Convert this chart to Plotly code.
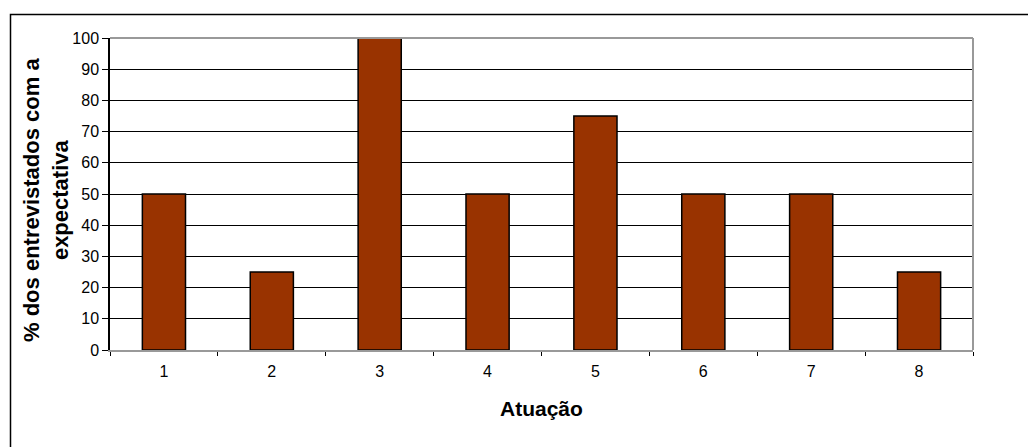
import plotly.graph_objects as go

# Share of respondents holding each expectation, by area of activity
categorias = ["1", "2", "3", "4", "5", "6", "7", "8"]
percentuais = [50, 25, 100, 50, 75, 50, 50, 25]
ticks_y = [0, 10, 20, 30, 40, 50, 60, 70, 80, 90, 100]

W, H = 1028, 447
L, R, T, B = 110, 973, 38, 350
pw, ph = R - L, B - T

def px_x(x):
    return (x - L) / pw

def px_y(y):
    return (B - y) / ph

fonte = "Arial, Liberation Sans, sans-serif"

fig = go.Figure(go.Bar(
    x=categorias,
    y=percentuais,
    marker=dict(color="#993300", line=dict(color="black", width=1.5)),
    width=0.4,
))

fig.update_layout(
    width=W, height=H,
    margin=dict(l=L, r=W - R, t=T, b=H - B),
    paper_bgcolor="white",
    plot_bgcolor="white",
    showlegend=False,
    font=dict(family=fonte, size=16, color="black"),
)

fig.update_xaxes(
    type="category",
    showgrid=False,
    showline=True, linecolor="#999999", linewidth=2,
    ticks="outside", tickson="boundaries", ticklen=4, tickcolor="black",
    tickfont=dict(family=fonte, size=16, color="black"),
    ticklabelstandoff=6,
)

fig.update_yaxes(
    range=[0, 100],
    tickvals=ticks_y,
    showgrid=True, gridcolor="black", gridwidth=1,
    showline=True, linecolor="black", linewidth=1.5,
    ticks="outside", ticklen=6, tickcolor="black",
    tickfont=dict(family=fonte, size=16, color="black"),
    zeroline=False,
)

# Plot-area frame (top and right edges) in grey
fig.add_shape(type="line", xref="paper", yref="paper",
              x0=0, x1=1, y0=1, y1=1, line=dict(color="#999999", width=2))
fig.add_shape(type="line", xref="paper", yref="paper",
              x0=1, x1=1, y0=0, y1=1, line=dict(color="#999999", width=2))

# Outer chart border
fig.add_shape(type="rect", xref="paper", yref="paper",
              x0=px_x(10.5), x1=px_x(1060), y0=px_y(470), y1=px_y(14.5),
              line=dict(color="black", width=1.5), fillcolor="rgba(0,0,0,0)")

fig.add_annotation(
    text="<b>% dos entrevistados com a<br>expectativa</b>",
    xref="paper", yref="paper", x=px_x(46), y=px_y(200),
    xanchor="center", yanchor="middle", textangle=-90, showarrow=False,
    font=dict(family=fonte, size=22, color="black"),
)
fig.add_annotation(
    text="<b>Atuação</b>",
    xref="paper", yref="paper", x=px_x(541), y=px_y(408),
    xanchor="center", yanchor="middle", showarrow=False,
    font=dict(family=fonte, size=21, color="black"),
)

fig.write_html("out.html")
